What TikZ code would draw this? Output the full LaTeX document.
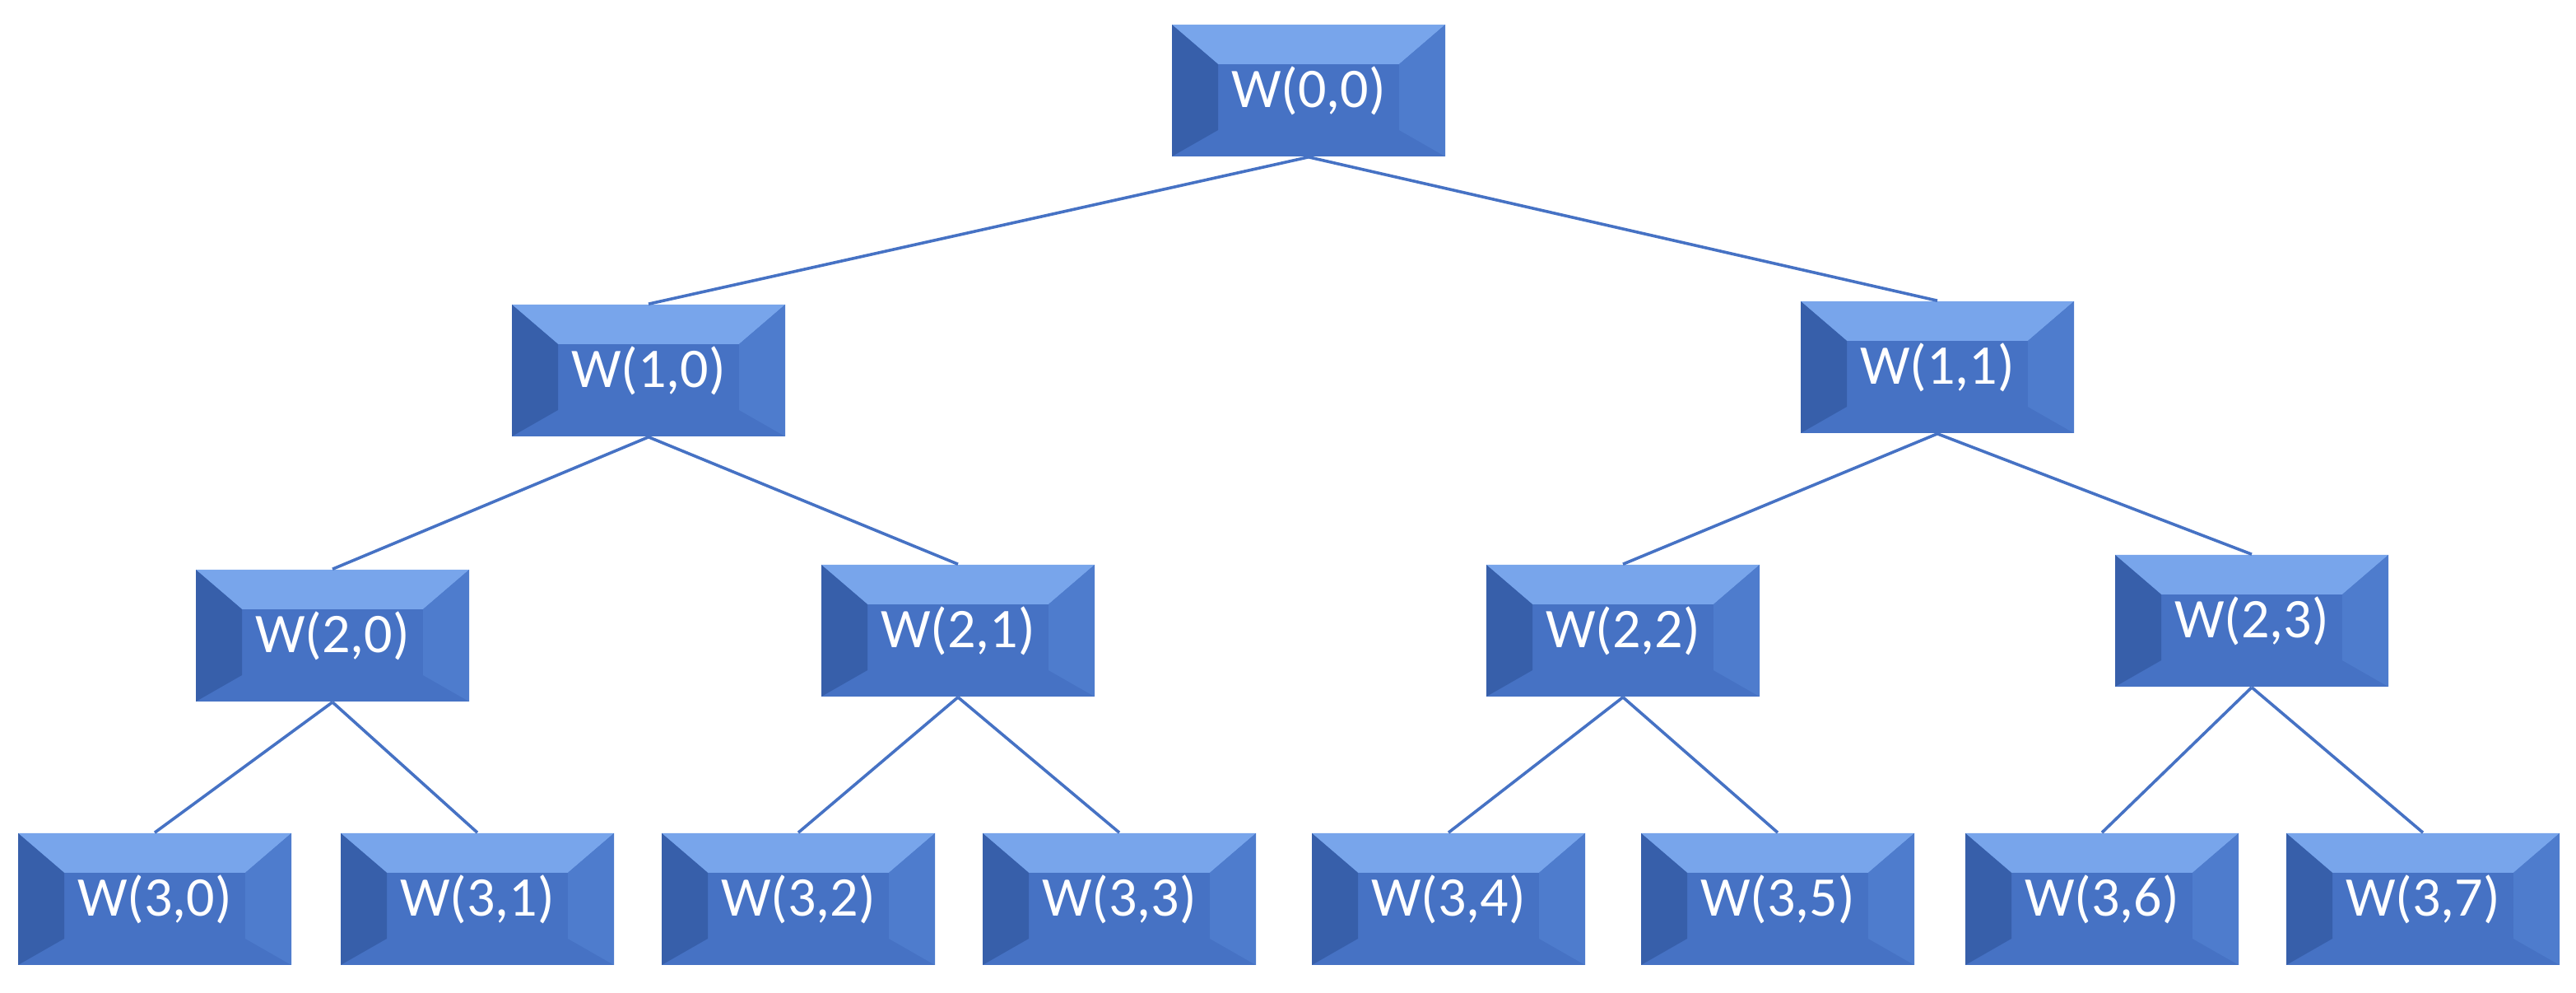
\documentclass[tikz,border=0pt]{standalone}
\usepackage{fontspec}
\setmainfont{Carlito}
\definecolor{wblue}{RGB}{70,114,196}
\definecolor{wtop}{RGB}{120,165,235}
\definecolor{wleft}{RGB}{55,95,170}
\definecolor{wright}{RGB}{78,124,205}
\begin{document}
\begin{tikzpicture}[x=0.5pt, y=-0.5pt,
  w/.style={rectangle, fill=wblue, minimum width=83pt, minimum height=40pt, inner sep=0pt,
    text=white, font=\fontsize{17}{17}\selectfont,
    path picture={
      \fill[wtop] (path picture bounding box.north west) -- (path picture bounding box.north east)
        -- ([xshift=-14pt,yshift=-12pt]path picture bounding box.north east)
        -- ([xshift=14pt,yshift=-12pt]path picture bounding box.north west) -- cycle;
      \fill[wleft] (path picture bounding box.north west) -- ([xshift=14pt,yshift=-12pt]path picture bounding box.north west)
        -- ([xshift=14pt,yshift=8pt]path picture bounding box.south west)
        -- (path picture bounding box.south west) -- cycle;
      \fill[wright] (path picture bounding box.north east) -- ([xshift=-14pt,yshift=-12pt]path picture bounding box.north east)
        -- ([xshift=-14pt,yshift=8pt]path picture bounding box.south east)
        -- (path picture bounding box.south east) -- cycle;
    }},
  e/.style={draw=wblue, line width=0.9pt}]
  \useasboundingbox (0,0) rectangle (1565,603);
  \node[w] (W00) at (795,55) {W(0,0)};
  \node[w] (W10) at (394,225) {W(1,0)};
  \node[w] (W11) at (1177,223) {W(1,1)};
  \node[w] (W20) at (202,386) {W(2,0)};
  \node[w] (W21) at (582,383) {W(2,1)};
  \node[w] (W22) at (986,383) {W(2,2)};
  \node[w] (W23) at (1368,377) {W(2,3)};
  \node[w] (W30) at (94,546) {W(3,0)};
  \node[w] (W31) at (290,546) {W(3,1)};
  \node[w] (W32) at (485,546) {W(3,2)};
  \node[w] (W33) at (680,546) {W(3,3)};
  \node[w] (W34) at (880,546) {W(3,4)};
  \node[w] (W35) at (1080,546) {W(3,5)};
  \node[w] (W36) at (1277,546) {W(3,6)};
  \node[w] (W37) at (1472,546) {W(3,7)};

  \path[e] (W00.south) edge (W10.north) edge (W11.north);
  \path[e] (W10.south) edge (W20.north) edge (W21.north);
  \path[e] (W11.south) edge (W22.north) edge (W23.north);
  \path[e] (W20.south) edge (W30.north) edge (W31.north);
  \path[e] (W21.south) edge (W32.north) edge (W33.north);
  \path[e] (W22.south) edge (W34.north) edge (W35.north);
  \path[e] (W23.south) edge (W36.north) edge (W37.north);
\end{tikzpicture}
\end{document}
